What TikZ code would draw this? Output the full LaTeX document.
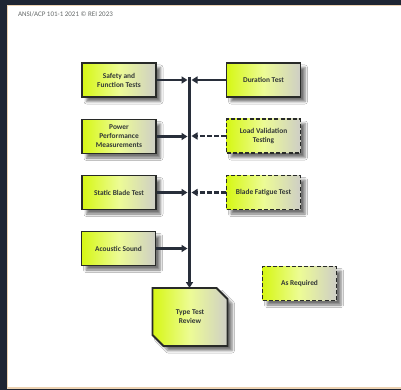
\documentclass[tikz,border=0pt]{standalone}
\usepackage{fontspec}
\setmainfont{Carlito}
\usetikzlibrary{shadows.blur,shapes.misc,arrows.meta}
\definecolor{bgdark}{RGB}{30,37,51}
\definecolor{tan}{RGB}{236,210,178}
\definecolor{lime}{RGB}{214,247,20}
\definecolor{greyr}{RGB}{206,206,198}
\definecolor{edge}{RGB}{40,42,40}
\definecolor{arr}{RGB}{40,46,58}
\definecolor{txt}{RGB}{50,55,55}
\tikzset{
  boxbase/.style={minimum width=74pt, minimum height=34pt, inner sep=1pt,
    left color=lime, right color=greyr, middle color=lime!45!white,
    line width=1.8pt, align=center, text=txt,
    font=\fontsize{7.4pt}{9pt}\selectfont\bfseries,
    blur shadow={shadow xshift=4.5pt, shadow yshift=-4.5pt, shadow blur radius=2.5pt, shadow opacity=55}},
  solidbox/.style={boxbase, draw=edge},
  dashbox/.style={boxbase, draw=edge, dash pattern=on 4pt off 2.2pt},
  reviewbox/.style={boxbase, draw=edge, chamfered rectangle, chamfered rectangle corners={north east,south west},
    chamfered rectangle xsep=5.5pt, chamfered rectangle ysep=5.5pt, minimum width=75pt, minimum height=58pt},
  flow/.style={line width=2.3pt, draw=arr, -{Triangle[length=6pt,width=7pt]}},
  flowdash/.style={flow, dash pattern=on 4.5pt off 2.5pt},
}
\begin{document}
\begin{tikzpicture}[x=1pt,y=-1pt]
\fill[bgdark] (0,0) rectangle (401,390);
\useasboundingbox (0,0) rectangle (401,390);
\draw[fill=white, draw=tan, line width=1.5pt] (7.5,5.5) rectangle (403,388);
\node[anchor=west, text=txt!75, font=\fontsize{7pt}{8pt}\selectfont] (hdr) at (14.5,14.5) {ANSI/ACP 101-1 2021 © REI 2023};

\node[solidbox] (saf) at (119,80) {Safety and\\Function Tests};
\node[solidbox] (pow) at (119,136.5) {Power\\Performance\\Measurements};
\node[solidbox] (sta) at (119,192.5) {Static Blade Test};
\node[solidbox] (aco) at (118.5,248.5) {Acoustic Sound};
\node[solidbox] (dur) at (263.5,80) {Duration Test};
\node[dashbox] (loa) at (263.5,136) {Load Validation\\Testing};
\node[dashbox] (bla) at (263.5,192.5) {Blade Fatigue Test};
\node[dashbox] (req) at (299.5,283.5) {As Required};
\node[reviewbox] (rev) at (190,317) {Type Test\\Review};

\coordinate (top) at (189.5,77);
\coordinate (l1) at (187.5,80);
\coordinate (l2) at (187.5,136.5);
\coordinate (l3) at (187.5,192.5);
\coordinate (l4) at (187.5,248.5);
\coordinate (r1) at (191.5,80);
\coordinate (r2) at (191.5,136);
\coordinate (r3) at (191.5,192.5);
\coordinate (bot) at (189.5,288);

\draw[flow] (top) -- (bot);
\draw[flow] (saf.east) -- (l1);
\draw[flow] (pow.east) -- (l2);
\draw[flow] (sta.east) -- (l3);
\draw[flow] (aco.east) -- (l4);
\draw[flow] (dur.west) -- (r1);
\draw[flowdash] (loa.west) -- (r2);
\draw[flowdash] (bla.west) -- (r3);
\end{tikzpicture}
\end{document}
